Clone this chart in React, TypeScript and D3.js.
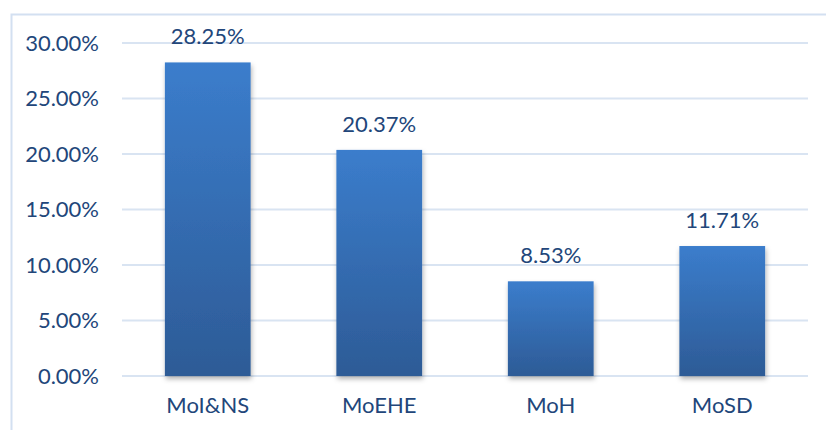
import React from "react";
import * as d3 from "d3";

const categories = ["MoI&NS", "MoEHE", "MoH", "MoSD"];
const values = [28.25, 20.37, 8.53, 11.71];
const yTicks = [0, 5, 10, 15, 20, 25, 30];

const width = 826;
const height = 430;
const margin = { top: 43, right: 18, bottom: 54, left: 122 };
const textColor = "#22467a";
const fontFamily = "Lato, 'Liberation Sans', sans-serif";
const fontSize = 22;

const App = () => {
  const innerW = width - margin.left - margin.right;
  const innerH = height - margin.top - margin.bottom;

  const x = d3.scaleBand().domain(categories).range([0, innerW]).paddingInner(0.5).paddingOuter(0.25);
  const y = d3.scaleLinear().domain([0, 30]).range([innerH, 0]);

  return (
    <svg
      width={width}
      height={height}
      style={{ position: "absolute", left: 0, top: 0, background: "#fff" }}
    >
      <defs>
        <linearGradient id="barGrad" x1="0" y1="0" x2="0" y2="1">
          <stop offset="0%" stopColor="#3b7dcc" />
          <stop offset="100%" stopColor="#2d5b96" />
        </linearGradient>
        <filter id="shadow" x="-20%" y="-10%" width="140%" height="120%">
          <feDropShadow dx="1" dy="3" stdDeviation="2.5" floodColor="#000" floodOpacity="0.3" />
        </filter>
      </defs>

      {/* outer frame */}
      <path d={`M11.5,${height} V14.5 H${width}`} fill="none" stroke="#d3e0f1" strokeWidth={2} />

      <g transform={`translate(${margin.left},${margin.top})`}>
        {/* gridlines */}
        {yTicks.map((t) => (
          <line
            key={t}
            x1={0}
            x2={innerW}
            y1={y(t)}
            y2={y(t)}
            stroke="#d9e4f2"
            strokeWidth={2}
          />
        ))}

        {/* y labels */}
        {yTicks.map((t) => (
          <text
            key={"l" + t}
            x={-23}
            y={y(t)}
            dy="0.36em"
            textAnchor="end"
            fill={textColor}
            fontFamily={fontFamily}
            fontSize={fontSize}
          >
            {t.toFixed(2)}%
          </text>
        ))}

        {/* bars */}
        {categories.map((c, i) => (
          <rect
            key={c}
            x={x(c)}
            y={y(values[i])}
            width={x.bandwidth()}
            height={innerH - y(values[i])}
            fill="url(#barGrad)"
            filter="url(#shadow)"
          />
        ))}

        {/* value labels */}
        {categories.map((c, i) => (
          <text
            key={"v" + c}
            x={(x(c) as number) + x.bandwidth() / 2}
            y={y(values[i]) - 18}
            textAnchor="middle"
            fill={textColor}
            fontFamily={fontFamily}
            fontSize={fontSize}
          >
            {values[i].toFixed(2)}%
          </text>
        ))}

        {/* x labels */}
        {categories.map((c) => (
          <text
            key={"x" + c}
            x={(x(c) as number) + x.bandwidth() / 2}
            y={innerH + 37}
            textAnchor="middle"
            fill={textColor}
            fontFamily={fontFamily}
            fontSize={fontSize}
          >
            {c}
          </text>
        ))}
      </g>
    </svg>
  );
};

export default App;
